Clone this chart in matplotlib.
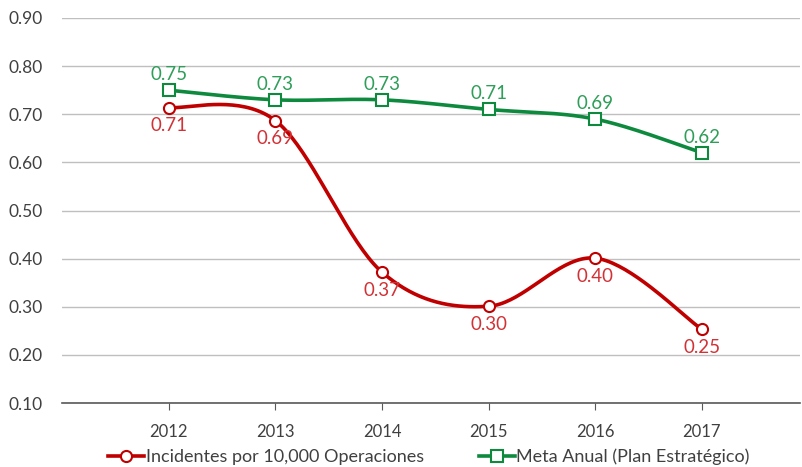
import numpy as np
import matplotlib
matplotlib.use("Agg")
from matplotlib import pyplot as plt

years = ["2012", "2013", "2014", "2015", "2016", "2017"]
incidentes = [0.714, 0.687, 0.372, 0.301, 0.401, 0.253]
meta = [0.75, 0.73, 0.73, 0.71, 0.69, 0.62]

red = "#C00000"
red_txt = "#D23236"
green = "#0E8A3E"
green_txt = "#2E9E59"
grid_c = "#BFBFBF"
txt_c = "#404040"

plt.rcParams['font.family'] = ['Lato', 'DejaVu Sans']


def smooth(xs, ys, n=40):
    # catmull-rom through the points, like office "smoothed line"
    xs = np.asarray(xs, float)
    ys = np.asarray(ys, float)
    px = np.concatenate([[xs[0]], xs, [xs[-1]]])
    py = np.concatenate([[ys[0]], ys, [ys[-1]]])
    out_x, out_y = [], []
    t = np.linspace(0, 1, n)
    for i in range(1, len(px) - 2):
        p0, p1, p2, p3 = [np.array([px[k], py[k]]) for k in (i - 1, i, i + 1, i + 2)]
        c1 = p1 + (p2 - p0) / 6.0
        c2 = p2 - (p3 - p1) / 6.0
        b = ((1 - t) ** 3)[:, None] * p1 + (3 * (1 - t) ** 2 * t)[:, None] * c1 \
            + (3 * (1 - t) * t ** 2)[:, None] * c2 + (t ** 3)[:, None] * p2
        out_x.extend(b[:, 0])
        out_y.extend(b[:, 1])
    return out_x, out_y


fig = plt.figure(figsize=(8.02, 4.67), dpi=100)
ax = fig.add_axes([62 / 802, (467 - 403) / 467, 738 / 802, 385 / 467])

x = np.arange(len(years))

sx, sy = smooth(x, incidentes)
ax.plot(sx, sy, color=red, lw=2.6, zorder=3, solid_capstyle="round")
ax.plot(x, incidentes, ls="none", marker="o", ms=8, mfc="white", mec=red, mew=1.5, zorder=4)

gx, gy = smooth(x, meta)
ax.plot(gx, gy, color=green, lw=2.6, zorder=3, solid_capstyle="round")
ax.plot(x, meta, ls="none", marker="s", ms=8, mfc="white", mec=green, mew=1.5, zorder=4)

for xi, v in zip(x, incidentes):
    ax.annotate("%.2f" % v, (xi, v), xytext=(0, -7), textcoords="offset points",
                ha="center", va="top", color=red_txt, fontsize=13.5)
for xi, v in zip(x, meta):
    ax.annotate("%.2f" % v, (xi, v), xytext=(0, 5), textcoords="offset points",
                ha="center", va="bottom", color=green_txt, fontsize=13.5)

ax.set_ylim(0.10, 0.90)
ax.set_yticks(np.arange(0.10, 0.91, 0.10))
ax.set_yticklabels(["%.2f" % v for v in np.arange(0.10, 0.91, 0.10)])
ax.set_xlim(-1, len(years) - 0.08)
ax.set_xticks(x)
ax.set_xticklabels(years)

ax.yaxis.grid(True, color=grid_c, lw=1)
ax.set_axisbelow(True)
for s in ["top", "right", "left"]:
    ax.spines[s].set_visible(False)
ax.spines["bottom"].set_color("#595959")
ax.spines["bottom"].set_linewidth(1.2)
ax.tick_params(axis="y", length=0, pad=14, labelsize=12.5, labelcolor=txt_c)
ax.tick_params(axis="x", length=5, color="#595959", pad=10, labelsize=12, labelcolor=txt_c)

h1 = plt.Line2D([], [], color=red, lw=2.6, marker="o", ms=8, mfc="white", mec=red, mew=1.5)
h2 = plt.Line2D([], [], color=green, lw=2.6, marker="s", ms=8, mfc="white", mec=green, mew=1.5)
fig.legend([h1, h2], ["Incidentes por 10,000 Operaciones", "Meta Anual (Plan Estratégico)"],
           loc="center", bbox_to_anchor=(0.535, 0.022), ncol=2, frameon=False,
           fontsize=13, handlelength=2.0, handletextpad=0.1, columnspacing=3.0,
           labelcolor=txt_c)

fig.savefig("out.png", dpi=100)
